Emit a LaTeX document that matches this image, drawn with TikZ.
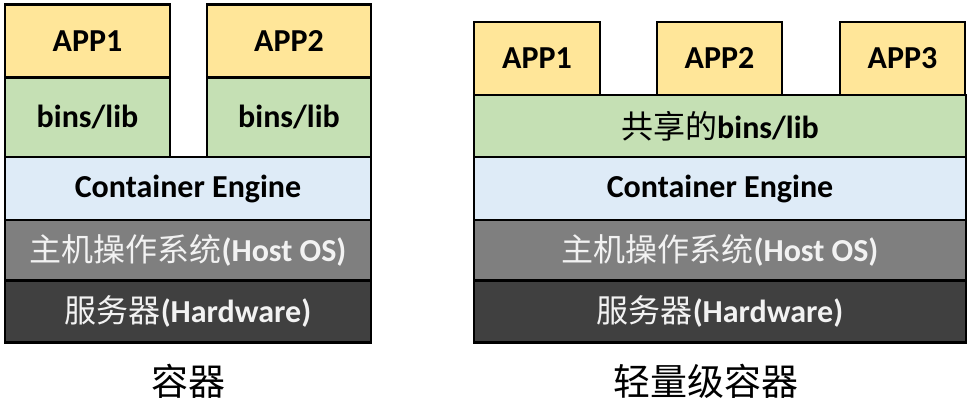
\documentclass[tikz,border=0pt]{standalone}
\usepackage{fontspec}
\setmainfont{Carlito}
\newfontfamily\cjk{Noto Sans CJK SC}
\usetikzlibrary{positioning}

\definecolor{appyellow}{HTML}{FFE699}
\definecolor{libgreen}{HTML}{C5E0B4}
\definecolor{engblue}{HTML}{DEEBF7}
\definecolor{osgray}{HTML}{7F7F7F}
\definecolor{hwgray}{HTML}{404040}

\begin{document}
\begin{tikzpicture}[x=1pt, y=-1pt,
  layer/.style={draw=black, line width=2.2pt, rectangle, inner sep=0pt,
                text centered, font=\fontsize{32}{32}\selectfont\bfseries},
  app/.style={layer, fill=appyellow, minimum height=73pt},
  lib/.style={layer, fill=libgreen},
  eng/.style={layer, fill=engblue, minimum height=63pt},
  os/.style={layer, fill=osgray, text=white!95!black, minimum height=61pt},
  hw/.style={layer, fill=hwgray, text=white!95!black, minimum height=62pt},
  caption/.style={font=\fontsize{37}{37}\selectfont\cjk}
]
  \useasboundingbox (0,0) rectangle (972,413);

  % left: one bins/lib per app
  \node[lib, minimum width=165pt, minimum height=80pt] (libA) at (87.5,117) {bins/lib};
  \node[lib, minimum width=164pt, minimum height=80pt] (libB) at (289,117)  {bins/lib};
  \node[app, minimum width=165pt] (appA) at (87.5,41) {APP1};
  \node[app, minimum width=164pt] (appB) at (289,41)  {APP2};
  \node[eng, minimum width=366pt] (engL) at (188,188.5) {Container Engine};
  \node[os,  minimum width=366pt] (osL)  at (188,250.5) {{\cjk\mdseries 主机操作系统}(Host OS)};
  \node[hw,  minimum width=366pt] (hwL)  at (188,311.5) {{\cjk\mdseries 服务器}(Hardware)};
  \node[caption] (capL) at (188,381) {容器};

  % right: shared bins/lib
  \node[lib, minimum width=492pt, minimum height=62pt] (libS) at (720,126) {{\cjk\mdseries 共享的}bins/lib};
  \node[app, minimum width=126pt] (appC) at (537,58.5)   {APP1};
  \node[app, minimum width=125pt] (appD) at (719.5,58.5) {APP2};
  \node[app, minimum width=125pt] (appE) at (902.5,58.5) {APP3};
  \node[eng, minimum width=492pt] (engR) at (720,188.5) {Container Engine};
  \node[os,  minimum width=492pt] (osR)  at (720,250.5) {{\cjk\mdseries 主机操作系统}(Host OS)};
  \node[hw,  minimum width=492pt] (hwR)  at (720,311.5) {{\cjk\mdseries 服务器}(Hardware)};
  \node[caption] (capR) at (706,381) {轻量级容器};
\end{tikzpicture}
\end{document}
